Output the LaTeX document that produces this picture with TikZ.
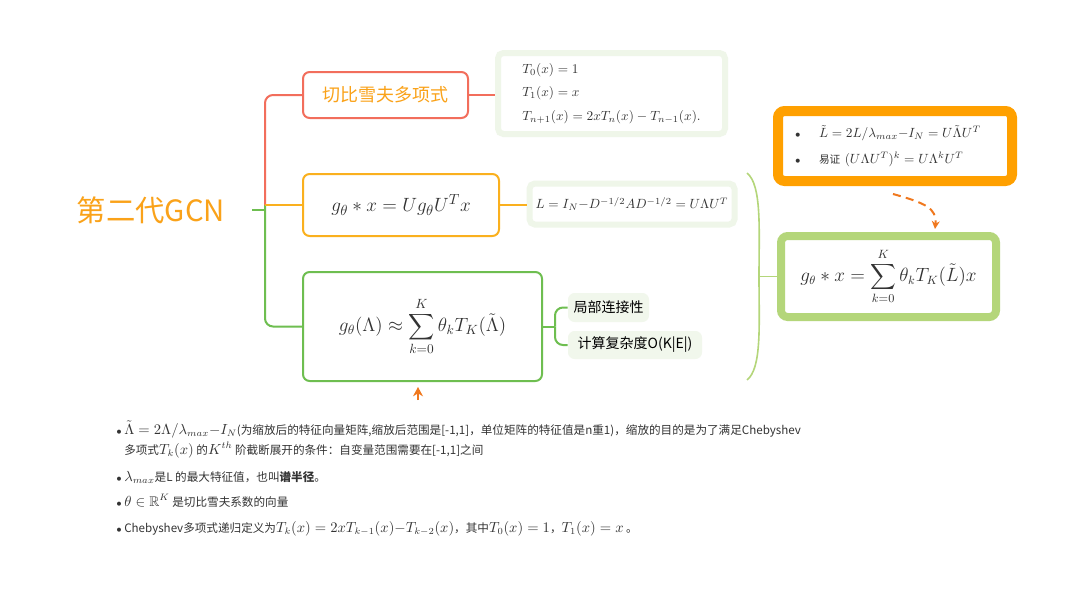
\documentclass[tikz,border=0pt]{standalone}
\usepackage{amsmath,amssymb}
\usepackage[no-math]{fontspec}
\setmainfont{Noto Sans CJK SC}
\usetikzlibrary{arrows.meta}
\definecolor{titleorange}{RGB}{250,162,25}
\definecolor{chebred}{RGB}{242,110,92}
\definecolor{specorange}{RGB}{250,176,30}
\definecolor{polygreen}{RGB}{110,190,80}
\definecolor{palegreen}{RGB}{239,246,233}
\definecolor{leafgreen}{RGB}{241,247,236}
\definecolor{resgreen}{RGB}{180,214,122}
\definecolor{hintorange}{RGB}{255,160,0}
\definecolor{hintdash}{RGB}{240,120,30}
\definecolor{inkgray}{RGB}{51,51,51}
\newcommand{\blt}[1]{\makebox[#1][l]{\scriptsize$\bullet$}}
\newcommand{\nm}[1]{{\fontsize{10.5}{11}\selectfont$#1$}}

\begin{document}
\begin{tikzpicture}[x=0.75pt,y=-0.75pt,
    branch/.style={draw, line width=1.5pt, rounded corners=5pt, fill=white, inner sep=0pt, text=inkgray},
    pale/.style={draw=palegreen, line width=4.5pt, rounded corners=4pt, fill=white, inner sep=0pt, text=inkgray},
    leaf/.style={fill=leafgreen, rounded corners=5pt, inner sep=0pt, text=black, font=\fontsize{10.5}{12}\selectfont},
    link/.style={line width=1.5pt, rounded corners=6pt},
    note/.style={anchor=base west, inner sep=0pt, text=inkgray, font=\fontsize{8.7}{11}\selectfont}]
    \useasboundingbox (0,0) rectangle (1067,607);
    \fill[white] (0,0) rectangle (1067,607);
    % main tree
    \node[text=titleorange, font=\fontsize{22}{26}\selectfont] (root) at (151,210) {第二代GCN};
    \node[branch, draw=chebred, text=titleorange, minimum width=123.75pt, minimum height=34.5pt, font=\fontsize{13.5}{16}\selectfont] (cheb) at (385.5,95) {切比雪夫多项式};
    \node[pale, minimum width=170.25pt, minimum height=60.75pt, align=left, font=\fontsize{10.4}{17.6}\selectfont] (recur) at (611.5,93.5) {$T_0(x)=1$\\ $T_1(x)=x$\\ $T_{n+1}(x)=2xT_n(x)-T_{n-1}(x).$};
    \node[branch, draw=specorange, minimum width=147pt, minimum height=46.5pt, font=\fontsize{15.5}{18}\selectfont] (spec) at (401,205) {$g_\theta * x = U g_\theta U^T x$};
    \node[pale, minimum width=153.75pt, minimum height=30.75pt, font=\fontsize{10.2}{12}\selectfont] (lap) at (632,204) {$L = I_N{-}D^{-1/2}AD^{-1/2} = U\Lambda U^T$};
    \node[branch, draw=polygreen, minimum width=179.25pt, minimum height=81.75pt, font=\fontsize{13.6}{16}\selectfont] (approx) at (422.5,326.5) {$\displaystyle g_\theta(\Lambda) \approx \sum_{k=0}^{K}\theta_k T_K(\tilde\Lambda)$};
    \node[leaf, minimum width=60.75pt, minimum height=21.75pt] (local) at (608.5,307.5) {局部连接性};
    \node[leaf, minimum width=100.5pt, minimum height=21pt] (cost) at (635,345) {计算复杂度O(K|E|)};
    % right side
    \node[draw=hintorange, line width=7.5pt, rounded corners=5pt, fill=white, text=inkgray, inner xsep=12.75pt, text width=150pt, minimum height=52.5pt, align=left, font=\fontsize{10}{19.5}\selectfont] (hint) at (895,146) {\blt{18pt}$\tilde L = 2L/\lambda_{max}{-}I_N = U\tilde\Lambda U^T$\\ \blt{18pt}{\fontsize{8}{10}\selectfont 易证} $(U\Lambda U^T)^k = U\Lambda^k U^T$};
    \node[draw=resgreen, line width=6pt, rounded corners=5pt, fill=white, text=inkgray, minimum width=161.25pt, minimum height=60.75pt, font=\fontsize{13.4}{16}\selectfont] (result) at (888.5,276.5) {$\displaystyle g_\theta * x = \sum_{k=0}^{K}\theta_k T_K(\tilde L)x$};
    % connectors
    \coordinate (stem) at (252,210);
    \coordinate (fork) at (265,205);
    \draw[line width=1.5pt, polygreen] (stem) -- (265,210);
    \draw[link, polygreen] (fork) |- (approx.west);
    \draw[link, chebred] (fork) |- (cheb.west);
    \draw[link, specorange] (fork) -- (spec.west);
    \draw[link, chebred] (cheb.east) -- (cheb.east -| recur.west);
    \draw[link, specorange] (spec.east) -- (spec.east -| lap.west);
    \coordinate (split) at (555,326.5);
    \draw[link, polygreen] (approx.east) -- (split);
    \foreach \leafnode in {local,cost}
        \draw[link, polygreen] (split) |- (\leafnode.west);
    % brace to the result
    \coordinate (btop) at (747,173);
    \coordinate (bmid) at (759,276.5);
    \coordinate (bbot) at (747,380);
    \draw[resgreen, line width=1.2pt] (btop) .. controls (762,185) and (759,230) .. (bmid) .. controls (759,325) and (762,368) .. (bbot);
    \draw[resgreen, line width=1.2pt] (bmid) -- (result.west);
    \coordinate (dfrom) at (893,194);
    \coordinate (dto) at (935,229);
    \draw[hintdash, line width=1.5pt, dash pattern=on 6pt off 4pt, -{Stealth[length=6pt,width=6pt]}] (dfrom) .. controls (925,203) and (937,208) .. (dto);
    \coordinate (upfrom) at (418,400);
    \coordinate (upto) at (418,387);
    \draw[hintdash, line width=2.2pt, -{Stealth[length=7pt,width=7.5pt]}] (upfrom) -- (upto);
    % notes
    \node[note] (n1) at (116,434) {\blt{6pt}\nm{\tilde\Lambda = 2\Lambda/\lambda_{max}{-}I_N}(为缩放后的特征向量矩阵,缩放后范围是[-1,1]，单位矩阵的特征值是n重1)，缩放的目的是为了满足Chebyshev};
    \node[note] (n1b) at (124,454) {多项式\nm{T_k(x)} 的\nm{K^{th}} 阶截断展开的条件：自变量范围需要在[-1,1]之间};
    \node[note] (n2) at (116,481) {\blt{6pt}\nm{\lambda_{max}}是L 的最大特征值，也叫\textbf{谱半径}。};
    \node[note] (n3) at (116,506) {\blt{6pt}\nm{\theta\in\mathbb{R}^K} 是切比雪夫系数的向量};
    \node[note] (n4) at (116,532) {\blt{6pt}Chebyshev多项式递归定义为\nm{T_k(x) = 2xT_{k-1}(x){-}T_{k-2}(x)}，其中\nm{T_0(x)=1}，\nm{T_1(x)=x} 。};
\end{tikzpicture}
\end{document}
